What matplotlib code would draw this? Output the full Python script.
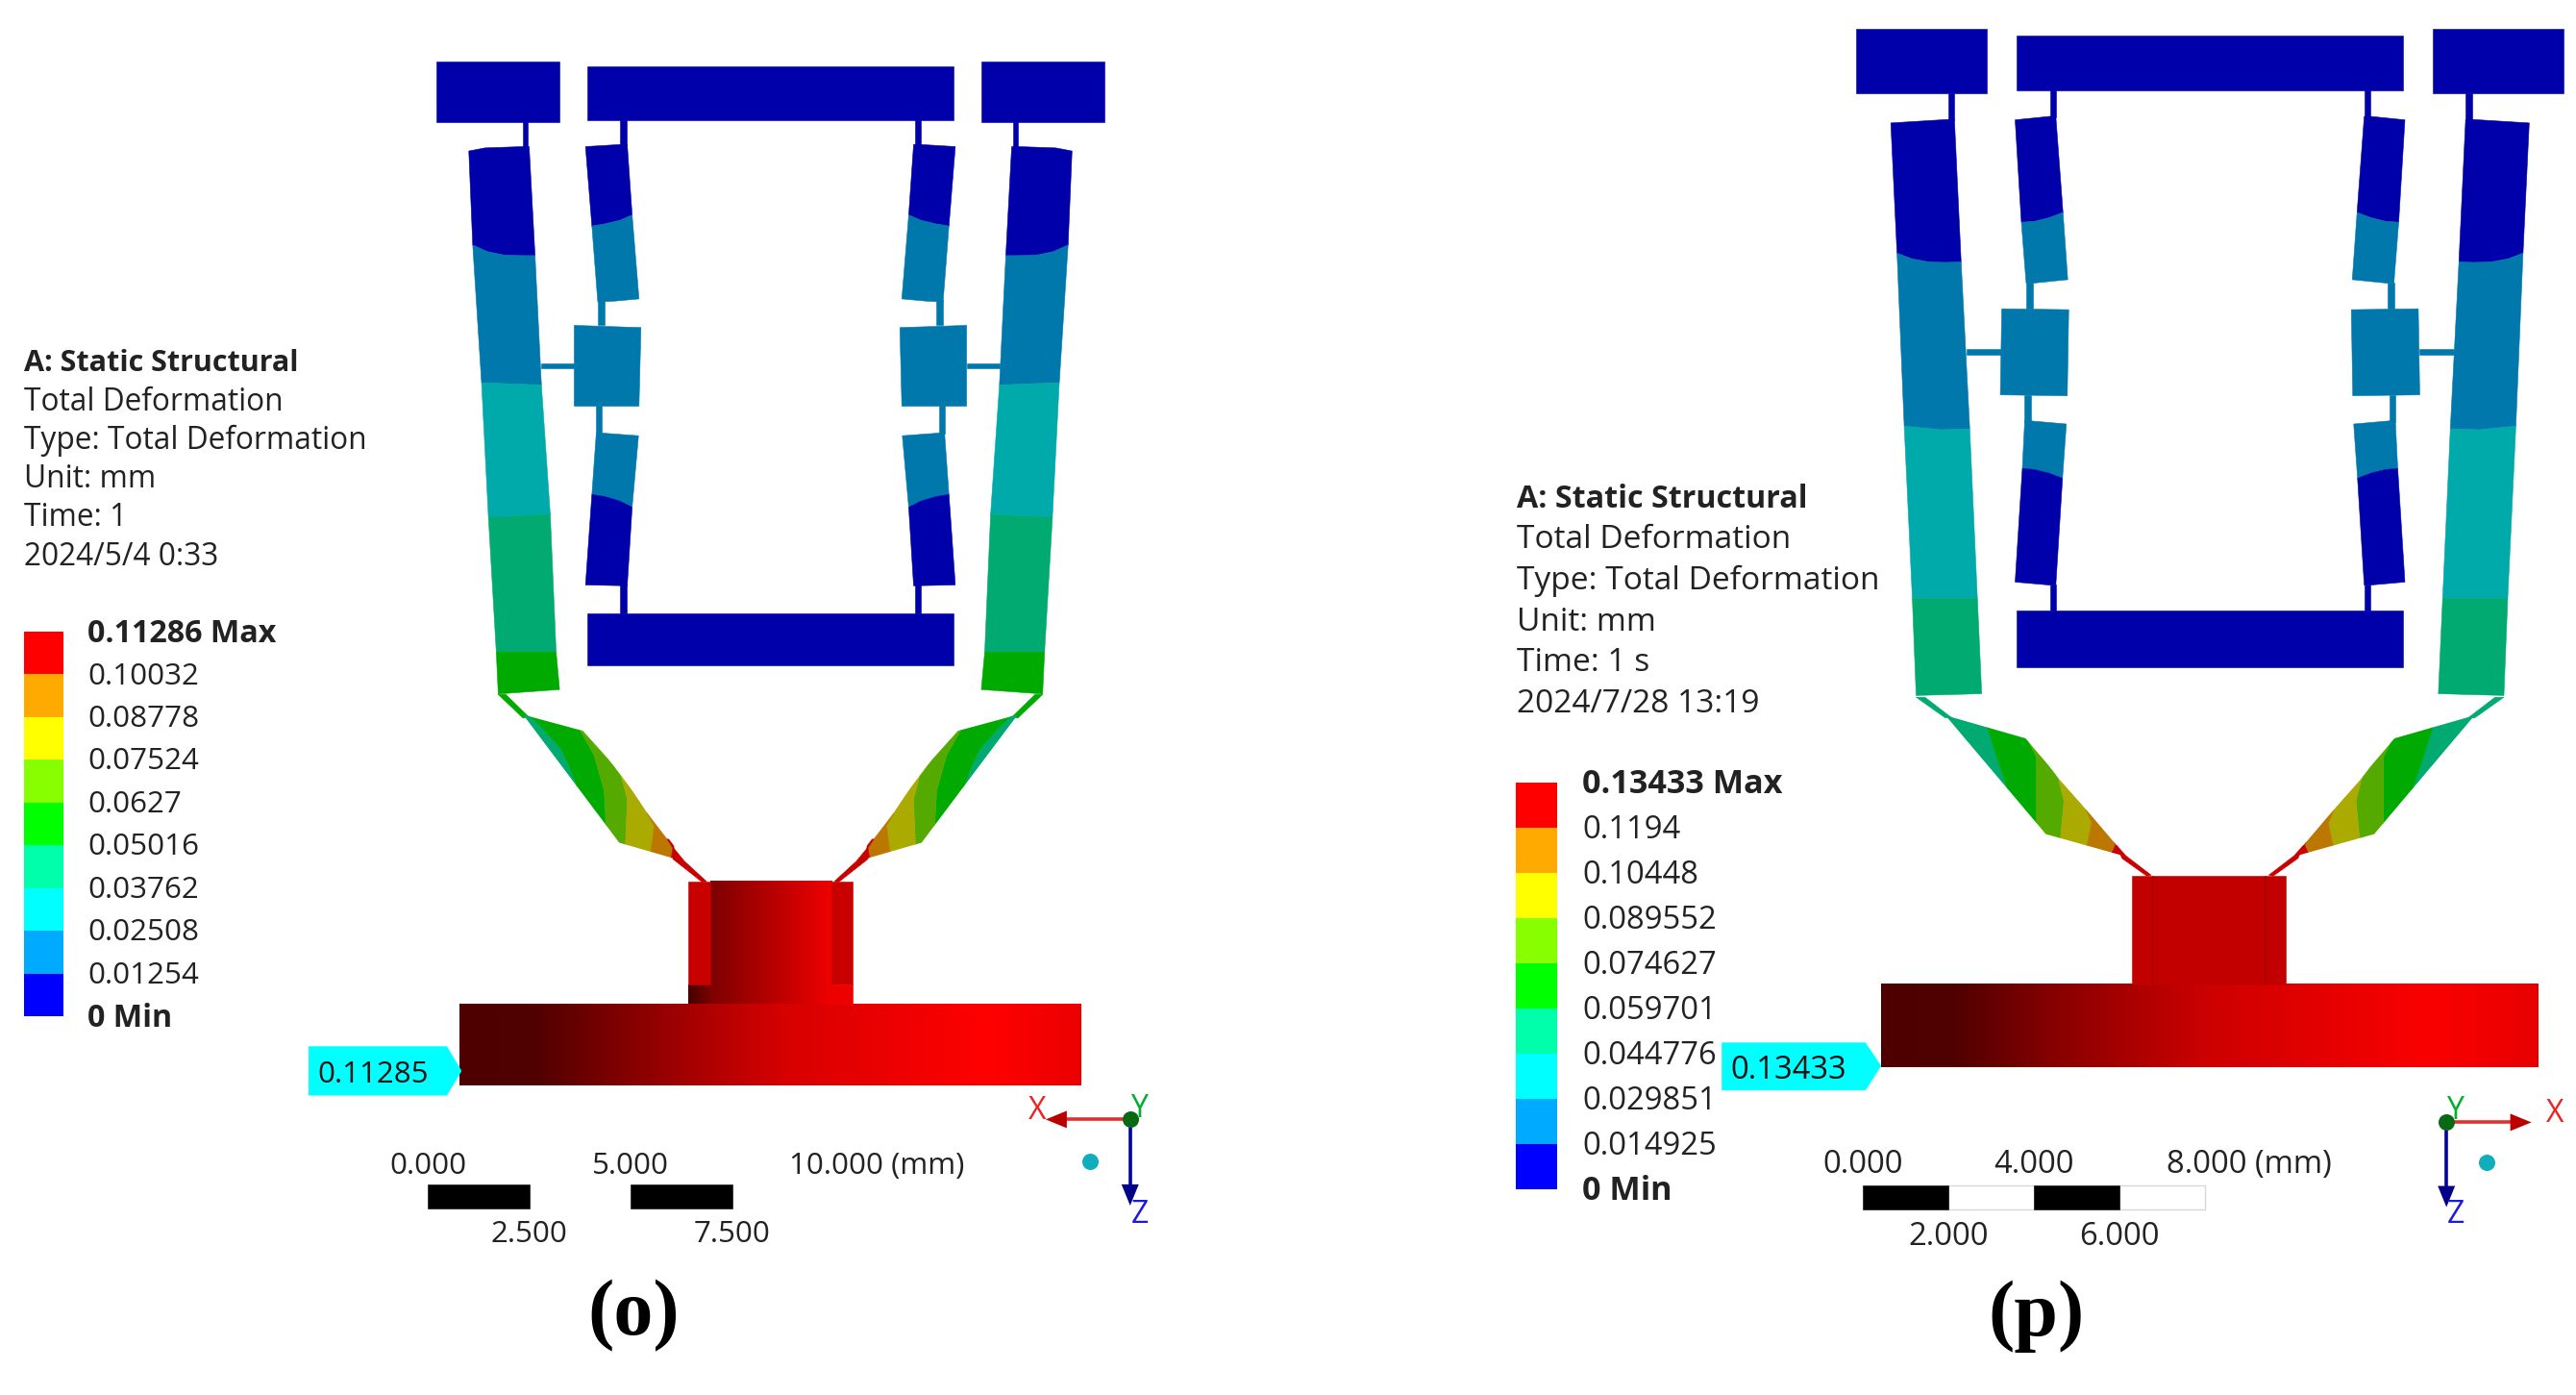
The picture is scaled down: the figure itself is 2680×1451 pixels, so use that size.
import numpy as np
import matplotlib
matplotlib.use("Agg")
import matplotlib.pyplot as plt
from matplotlib.patches import Polygon, Rectangle

W, H = 2680, 1451

# colours of the contour bands
DARK = "#0000aa"
STEEL = "#0078ac"
TEAL = "#00aaaa"
SEA = "#00aa70"
GREEN = "#00aa00"
LIME = "#55aa00"
OLIVE = "#aaaa00"
ORANGE = "#bb7700"
RED = "#c80000"

legend_colors = ["#0000ff", "#00aaff", "#00ffff", "#00ffaa", "#00ff00",
                 "#88ff00", "#ffff00", "#ffaa00", "#ff0000"]

# legend values
levels_o = [0, 0.01254, 0.02508, 0.03762, 0.05016, 0.0627, 0.07524, 0.08778, 0.10032, 0.11286]
labels_o = ["0 Min", "0.01254", "0.02508", "0.03762", "0.05016", "0.0627", "0.07524", "0.08778", "0.10032", "0.11286 Max"]
levels_p = [0, 0.014925, 0.029851, 0.044776, 0.059701, 0.074627, 0.089552, 0.10448, 0.1194, 0.13433]
labels_p = ["0 Min", "0.014925", "0.029851", "0.044776", "0.059701", "0.074627", "0.089552", "0.10448", "0.1194", "0.13433 Max"]

info_o = ["A: Static Structural", "Total Deformation", "Type: Total Deformation", "Unit: mm", "Time: 1", "2024/5/4 0:33"]
info_p = ["A: Static Structural", "Total Deformation", "Type: Total Deformation", "Unit: mm", "Time: 1 s", "2024/7/28 13:19"]

scale_o = [0, 2.5, 5, 7.5, 10]
scale_p = [0, 2, 4, 6, 8]

# crop frames the outlines were read in: x0, y0, x scale, y scale, symmetry axis
O_UP = (400, 40, 1.96, 2.178, 787)
O_LOW = (300, 680, 1.65, 2.178, 827.5)
P_UP = (1900, 20, 2.01, 2.178, 802.5)
P_LOW = (1780, 700, 1.742, 2.178, 904.5)

# panel o, upper part (left half, the two centre bars span the axis)
o_blocks = [(105, 53, 357, 189), (413, 63, 1161, 185), (413, 1303, 1161, 1420)]
o_arm = [[(172, 255), (205, 248), (282, 245), (295, 245)],
         [(180, 468), (210, 483), (245, 491), (280, 492), (307, 492)],
         [(198, 780), (320, 785)],
         [(212, 1085), (338, 1078)],
         [(228, 1390), (350, 1390)],
         [(232, 1485), (357, 1475)]]
o_arm_colors = [DARK, STEEL, TEAL, SEA, GREEN]
o_in_top = [[(410, 245), (485, 240), (495, 240)],
            [(423, 425), (450, 420), (480, 412), (505, 400)],
            [(435, 597), (470, 595), (519, 590)]]
o_in_bot = [[(432, 893), (518, 900)],
            [(423, 1033), (450, 1038), (480, 1048), (505, 1062)],
            [(410, 1238), (495, 1240)]]
o_mass = [(387, 650), (523, 655), (519, 833), (387, 833)]
o_necks_dark = [(282, 189, 293, 250), (480, 185, 493, 242), (480, 1238, 493, 1303)]
o_necks_steel = [(436, 592, 448, 650), (432, 833, 443, 895), (320, 737, 387, 748)]

# panel o, lower part (left half)
o_piece = [(403, 138), (515, 178), (662, 435), (665, 465), (568, 428)]
o_bands = [[(370, 90), (370, 340)],
           [(400, 125), (430, 160), (468, 215), (482, 255), (495, 300)],
           [(495, 160), (525, 230), (542, 310), (548, 450)],
           [(570, 270), (582, 330), (578, 450)],
           [(615, 360), (628, 390), (620, 470)],
           [(650, 420), (660, 440), (655, 480)],
           [(720, 420), (720, 490)]]
o_band_colors = [SEA, GREEN, LIME, OLIVE, ORANGE, RED]
o_link_top = [(360, 92), (373, 92), (412, 142), (403, 146)]
o_link_bot = [(660, 438), (680, 470), (718, 516), (710, 517), (660, 465)]

# panel p, upper part (left half, the two centre bars span the axis)
p_blocks = [(63, 22, 336, 168), (398, 36, 1207, 162), (398, 1340, 1207, 1467)]
p_arm = [[(135, 235), (255, 227), (268, 227)],
         [(148, 530), (180, 543), (215, 550), (250, 551), (282, 550)],
         [(163, 922), (240, 930), (300, 928)],
         [(180, 1312), (316, 1312)],
         [(188, 1532), (325, 1528)]]
p_arm_colors = [DARK, STEEL, TEAL, SEA]
p_in_top = [[(395, 228), (468, 220), (480, 220)],
            [(408, 460), (435, 458), (465, 450), (495, 438)],
            [(418, 598), (432, 598), (505, 590)]]
p_in_bot = [[(415, 910), (428, 910), (502, 917)],
            [(410, 1018), (435, 1020), (465, 1028), (494, 1040)],
            [(395, 1275), (468, 1282), (480, 1282)]]
p_mass = [(367, 656), (507, 658), (504, 853), (364, 851)]
p_necks_dark = [(255, 168, 268, 229), (468, 162, 480, 222), (468, 1280, 480, 1340)]
p_necks_steel = [(418, 596, 432, 656), (415, 851, 428, 912), (293, 747, 365, 760)]

# panel p, lower part (left half)
p_piece = [(425, 96), (570, 148), (735, 390), (750, 415), (607, 365)]
p_bands = [[(400, 60), (400, 350)],
           [(495, 100), (515, 180), (545, 290)],
           [(565, 130), (590, 190), (590, 345)],
           [(630, 240), (640, 290), (632, 395)],
           [(680, 310), (690, 340), (680, 400)],
           [(728, 370), (733, 390), (722, 420)],
           [(790, 400), (790, 450)]]
p_band_colors = [SEA, GREEN, LIME, OLIVE, ORANGE, RED]
p_link_top = [(372, 55), (388, 55), (435, 100), (425, 102)]
p_link_bot = [(735, 390), (752, 414), (798, 458), (790, 460), (745, 420)]


def to_px(pts, frame, mirror=False):
    x0, y0, sx, sy, axis = frame
    out = []
    for x, y in pts:
        if mirror:
            x = 2 * axis - x
        out.append((x0 + x / sx, y0 + y / sy))
    return out


def box(b):
    return [(b[0], b[1]), (b[2], b[1]), (b[2], b[3]), (b[0], b[3])]


def fill(ax, pts, frame, color, mirror=False, z=2):
    p = Polygon(to_px(pts, frame, mirror), closed=True, fc=color, ec=color, lw=0.4, zorder=z)
    ax.add_patch(p)
    return p


def both(ax, pts, frame, color, z=2):
    fill(ax, pts, frame, color, False, z)
    fill(ax, pts, frame, color, True, z)


def bands(ax, edges, colors, frame):
    for i, c in enumerate(colors):
        both(ax, edges[i] + edges[i + 1][::-1], frame, c)


def piece(ax, outline, edges, colors, frame):
    for mirror in (False, True):
        clip = Polygon(to_px(outline, frame, mirror), closed=True, fc="none", ec="none",
                       transform=ax.transData)
        ax.add_patch(clip)
        for i, c in enumerate(colors):
            b = fill(ax, edges[i] + edges[i + 1][::-1], frame, c, mirror)
            b.set_clip_path(clip)


def gradient(ax, xs, rgb, x1, x2, y1, y2, frame):
    (a, b), (c, d) = to_px([(x1, y1), (x2, y2)], frame)
    col = np.linspace(x1, x2, 500)
    img = np.stack([np.interp(col, xs, [v[k] / 255 for v in rgb]) for k in range(3)], axis=1)
    ax.imshow(img[None, :, :], extent=(a, c, d, b), aspect="auto", zorder=2, interpolation="bilinear")


def legend(fig, levels, labels, colors, x, y1, y2, width, text_x, size, bold_size):
    lax = fig.add_axes([x / W, 1 - y2 / H, width / W, (y2 - y1) / H])
    lax.bar(0, np.diff(levels), bottom=levels[:-1], width=1, color=colors, align="edge")
    lax.set_xlim(0, 1)
    lax.set_ylim(levels[0], levels[-1])
    lax.axis("off")
    for v, t in zip(levels, labels):
        bold = "M" in t
        lax.annotate(t, xy=((text_x - x) / width, v), xytext=(0, -1.5), textcoords="offset points",
                     fontsize=bold_size if bold else size, va="center", ha="left", color="#222222",
                     annotation_clip=False, fontweight="bold" if bold else "normal")


def info(ax, lines, x, y0, step, size, bold_size):
    for i, t in enumerate(lines):
        ax.text(x, y0 + i * step, t, fontsize=bold_size if i == 0 else size, va="center", ha="left",
                color="#222222", fontweight="bold" if i == 0 else "normal")


def tag(ax, pts, frame, text, tx, ty, size):
    fill(ax, pts, frame, "#00ffff", z=3)
    (x, y), = to_px([(tx, ty)], frame)
    ax.text(x, y + 3, text, fontsize=size, va="center", ha="left", color="#111111", zorder=4)


def scalebar(ax, vals, frame, x0, step, y1, y2, y_up, y_low, unit_x, size, white):
    for i in range(len(vals) - 1):
        a = x0 + vals[i] * step
        b = x0 + vals[i + 1] * step
        (xa, ya), (xb, yb) = to_px([(a, y1), (b, y2)], frame)
        if i % 2 == 0:
            ax.add_patch(Rectangle((xa, ya), xb - xa, yb - ya, fc="black", ec="black", lw=0.4, zorder=3))
        elif white:
            ax.add_patch(Rectangle((xa, ya), xb - xa, yb - ya, fc="white", ec="#d8d8d8", lw=1, zorder=2))
    for i, v in enumerate(vals):
        (x, y), = to_px([(x0 + v * step, y_up if i % 2 == 0 else y_low)], frame)
        s = "%.3f" % v
        if i == len(vals) - 1:
            (x, y), = to_px([(unit_x, y_up)], frame)
            ax.text(x, y + 3, s + " (mm)", fontsize=size, va="center", ha="left", color="#222222")
        else:
            ax.text(x, y + 3, s, fontsize=size, va="center", ha="center", color="#222222")


def triad(ax, frame, origin, xtip, ztip, ball, xt, yt, zt, size):
    (ox, oy), (xx, xy), (zx, zy), (bx, by) = to_px([origin, xtip, ztip, ball], frame)
    sign = 1 if xx > ox else -1
    ax.plot([ox, xx - sign * 18], [oy, oy], color="#e03030", lw=2.6, zorder=3, solid_capstyle="butt")
    ax.add_patch(Polygon([(xx, xy), (xx - sign * 22, xy - 9), (xx - sign * 22, xy + 9)], fc="#bb0000", ec="none", zorder=4))
    ax.plot([ox, ox], [oy, zy - 18], color="#0000aa", lw=2.6, zorder=3, solid_capstyle="butt")
    ax.add_patch(Polygon([(zx, zy), (zx - 9, zy - 22), (zx + 9, zy - 22)], fc="#000088", ec="none", zorder=4))
    ax.scatter([ox], [oy], s=150, color="#0a6a14", zorder=5, linewidths=0)
    ax.scatter([bx], [by], s=150, color="#10aebc", zorder=5, linewidths=0)
    for pos, s, c in ((xt, "X", "#ee2222"), (yt, "Y", "#00b030"), (zt, "Z", "#1a1ae0")):
        (x, y), = to_px([pos], frame)
        ax.text(x, y + 3, s, fontsize=size, color=c, ha="center", va="center", zorder=6)


plt.rcParams["font.family"] = ["Open Sans", "DejaVu Sans"]

fig = plt.figure(figsize=(W / 100, H / 100), dpi=100)
ax = fig.add_axes([0, 0, 1, 1])

# panel o
for b in o_blocks:
    fill(ax, box(b), O_UP, DARK)
fill(ax, box(o_blocks[0]), O_UP, DARK, True)
bands(ax, o_arm, o_arm_colors, O_UP)
bands(ax, o_in_top, [DARK, STEEL], O_UP)
bands(ax, o_in_bot, [STEEL, DARK], O_UP)
both(ax, o_mass, O_UP, STEEL)
for b in o_necks_dark:
    both(ax, box(b), O_UP, DARK)
for b in o_necks_steel:
    both(ax, box(b), O_UP, STEEL)
both(ax, o_link_top, O_LOW, GREEN)
both(ax, o_link_bot, O_LOW, RED)
piece(ax, o_piece, o_bands, o_band_colors, O_LOW)

o_base_x = [294, 420, 640, 850, 1200, 1361]
o_base_c = [(78, 0, 0), (80, 0, 0), (150, 0, 0), (215, 0, 0), (255, 0, 0), (235, 0, 0)]
gradient(ax, o_base_x, o_base_c, 294, 1361, 793, 978, O_LOW)
gradient(ax, [724, 932], [(125, 0, 0), (240, 0, 0)], 724, 932, 516, 793, O_LOW)
gradient(ax, [687, 724], [(70, 0, 0), (120, 0, 0)], 687, 724, 750, 793, O_LOW)
fill(ax, box((687, 516, 724, 750)), O_LOW, "#c80000", z=3)
fill(ax, box((932, 516, 968, 750)), O_LOW, "#c80000", z=3)
fill(ax, box((932, 750, 968, 793)), O_LOW, "#ee0000", z=3)

tag(ax, [(35, 890), (272, 890), (297, 945), (272, 1000), (35, 1000)], O_LOW, "0.11285", 50, 947, 22.5)
scalebar(ax, scale_o, O_LOW, 240, 69.6, 1203, 1257, 1155, 1308, 860, 22.5, False)
triad(ax, O_LOW, (1445, 1055), (1300, 1055), (1445, 1250), (1376, 1150), (1285, 1030), (1462, 1025), (1462, 1265), 23)
info(ax, info_o, 25, 378, 40.2, 22.8, 22)
legend(fig, levels_o, labels_o, legend_colors, 25, 657, 1057, 41, 91, 22.6, 23.2)
ax.text(659, 1369, "(o)", fontsize=59, family="Liberation Serif", fontweight="bold", ha="center", va="center", color="black")

# panel p
for b in p_blocks:
    fill(ax, box(b), P_UP, DARK)
fill(ax, box(p_blocks[0]), P_UP, DARK, True)
bands(ax, p_arm, p_arm_colors, P_UP)
bands(ax, p_in_top, [DARK, STEEL], P_UP)
bands(ax, p_in_bot, [STEEL, DARK], P_UP)
both(ax, p_mass, P_UP, STEEL)
for b in p_necks_dark:
    both(ax, box(b), P_UP, DARK)
for b in p_necks_steel:
    both(ax, box(b), P_UP, STEEL)
both(ax, p_link_top, P_LOW, SEA)
both(ax, p_link_bot, P_LOW, RED)
piece(ax, p_piece, p_bands, p_band_colors, P_LOW)

p_base_x = [309, 440, 640, 900, 1300, 1500]
p_base_c = [(78, 0, 0), (80, 0, 0), (140, 0, 0), (205, 0, 0), (250, 0, 0), (232, 0, 0)]
gradient(ax, p_base_x, p_base_c, 309, 1500, 705, 893, P_LOW)
fill(ax, box((763, 460, 1042, 705)), P_LOW, "#c30000")
fill(ax, box((799, 460, 802, 705)), P_LOW, "#a80000", z=3)
fill(ax, box((1003, 460, 1006, 705)), P_LOW, "#a80000", z=3)

tag(ax, [(20, 838), (280, 838), (308, 890), (280, 945), (20, 945)], P_LOW, "0.13433", 35, 893, 23.6)
scalebar(ax, scale_p, P_LOW, 275, 77.5, 1160, 1215, 1107, 1270, 825, 23.6, True)
triad(ax, P_LOW, (1333, 1018), (1487, 1018), (1333, 1210), (1405, 1108), (1530, 992), (1350, 985), (1350, 1220), 23)
info(ax, info_p, 1578, 519, 42.7, 24.1, 23.2)
legend(fig, levels_p, labels_p, legend_colors, 1577, 814, 1237, 43, 1646, 23.6, 24.6)
ax.text(2118, 1369, "(p)", fontsize=59, family="Liberation Serif", fontweight="bold", ha="center", va="center", color="black")

ax.set_xlim(0, W)
ax.set_ylim(H, 0)
ax.axis("off")
fig.savefig("out.png", dpi=100, facecolor="white")
